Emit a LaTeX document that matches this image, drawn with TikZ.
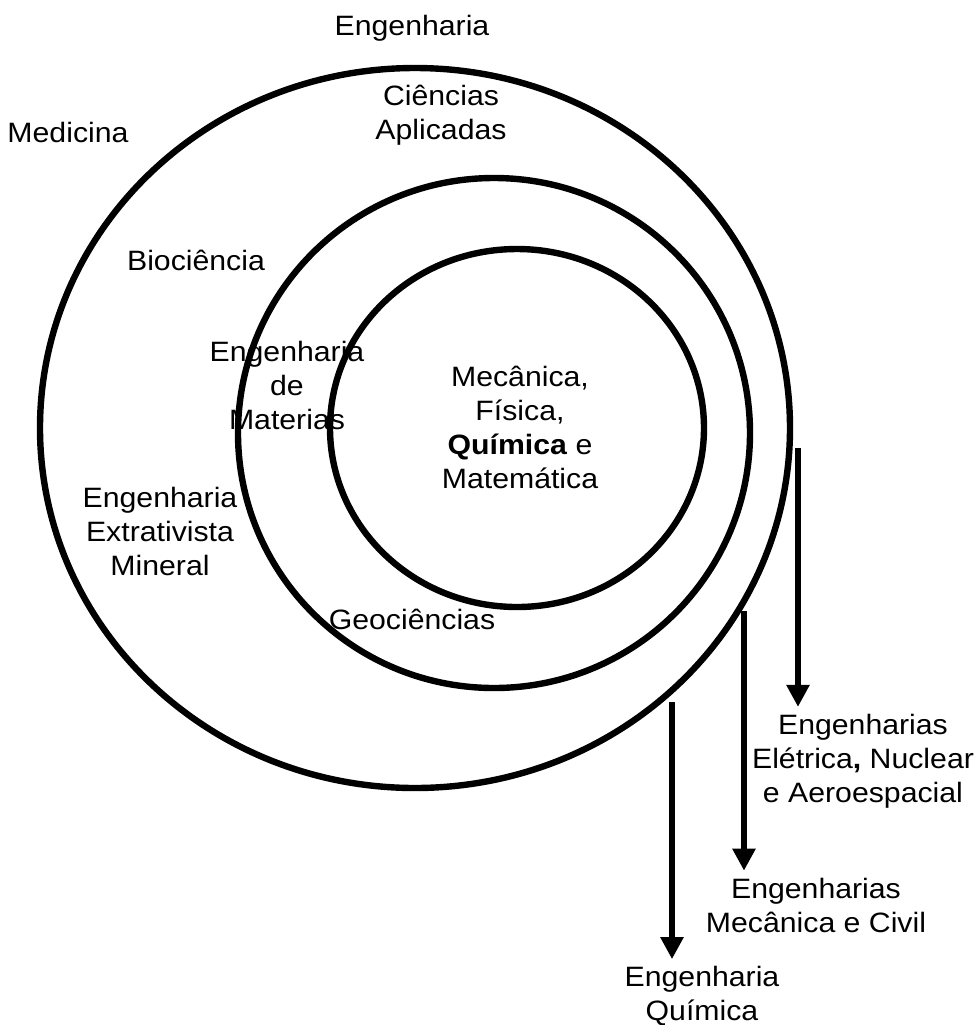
\documentclass[tikz,border=0pt]{standalone}
\usepackage{fontspec}
\setmainfont{Liberation Sans}[FakeStretch=1.08]
\usetikzlibrary{arrows.meta}

\begin{document}
\begin{tikzpicture}[x=0.5pt, y=-0.5pt,
        ring/.style={line width=3.2pt},
        txt/.style={align=center, font=\fontsize{14}{17}\selectfont},
        drop/.style={line width=3pt, -{Triangle[width=11pt, length=11pt]}}]
        \useasboundingbox (0, 0) rectangle (979, 1025);

        \draw[ring] (415, 428) ellipse [x radius=375, y radius=360];
        \draw[ring] (494, 433) ellipse [x radius=256, y radius=255];
        \draw[ring] (517, 428) ellipse [x radius=187, y radius=179];

        \node (0) at (412, 28)[txt] {Engenharia};
        \node (1) at (441, 115)[txt] {Ciências\\Aplicadas};
        \node (2) at (68, 132)[txt] {Medicina};
        \node (3) at (196, 260)[txt] {Biociência};
        \node (4) at (287, 385)[txt] {Engenharia\\de\\Materias};
        \node (5) at (520, 427)[txt] {Mecânica,\\Física,\\\textbf{Química} e\\Matemática};
        \node (6) at (160, 531)[txt] {Engenharia\\Extrativista\\Mineral};
        \node (7) at (412, 619)[txt] {Geociências};

        \node (8) at (863, 761)[txt] {Engenharias\\Elétrica\textbf{,} Nuclear\\e Aeroespacial};
        \node (9) at (816, 905)[txt] {Engenharias\\Mecânica e Civil};
        \node (10) at (702, 996)[txt] {Engenharia\\Química};

        \coordinate (s8) at (798, 448);
        \coordinate (s9) at (744, 611);
        \coordinate (s10) at (672, 702);

        \draw[drop] (s8) -- (s8 |- 8.north);
        \draw[drop] (s9) -- (s9 |- 9.north);
        \draw[drop] (s10) -- (s10 |- 10.north);
    \end{tikzpicture}
\end{document}
